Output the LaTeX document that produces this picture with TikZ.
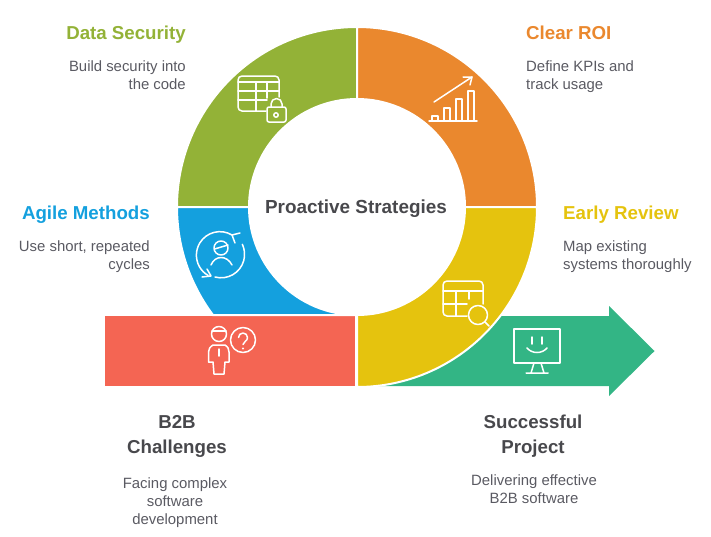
\documentclass[tikz,border=0pt]{standalone}
\usepackage{fontspec}
\setmainfont{Liberation Sans}
\definecolor{cOlive}{HTML}{93B237}
\definecolor{cOrange}{HTML}{EA882E}
\definecolor{cBlue}{HTML}{14A0DE}
\definecolor{cYellow}{HTML}{E5C30E}
\definecolor{cRed}{HTML}{F46553}
\definecolor{cGreen}{HTML}{33B585}
\definecolor{cTitle}{HTML}{48484C}
\definecolor{cDesc}{HTML}{5A5A62}
\tikzset{
  seg/.style={draw=white,line width=2pt,line join=miter},
  icon/.style={draw=white,line width=1.5pt,line cap=round,line join=round},
  head/.style={font=\fontsize{18.7}{25}\selectfont\bfseries,inner sep=0pt},
  desc/.style={font=\fontsize{14.9}{18}\selectfont,text=cDesc,inner sep=0pt},
}
\begin{document}
\begin{tikzpicture}[x=1pt,y=-1pt]
\useasboundingbox (0,0) rectangle (711,536);
% arrow (body runs under the ring)
\fill[cGreen] (370,386) -- (450,316) -- (609,316) -- (609,306) -- (654.5,351) -- (609,396) -- (609,386) -- cycle;
\fill[cRed] (105,316) rectangle (355,386);
% ring
\path[seg,fill=cOlive] (177,207) arc[start angle=180,end angle=270,radius=180] -- (357,99) arc[start angle=270,end angle=180,radius=108] -- cycle;
\path[seg,fill=cOrange] (357,27) arc[start angle=270,end angle=360,radius=180] -- (465,207) arc[start angle=360,end angle=270,radius=108] -- cycle;
\path[seg,fill=cYellow] (537,207) arc[start angle=0,end angle=90,radius=180] -- (357,315) arc[start angle=90,end angle=0,radius=108] -- cycle;
\path[seg,fill=cBlue] (177,207) arc[start angle=180,end angle=143.13,radius=180] -- (357,315) arc[start angle=90,end angle=180,radius=108] -- cycle;
% data security icon
\draw[icon] (279,97) -- (279,80) arc[start angle=0,end angle=-90,radius=4] -- (242,76) arc[start angle=270,end angle=180,radius=4] -- (238,107) arc[start angle=180,end angle=90,radius=4] -- (266,111);
\draw[icon] (238,82) -- (279,82) (238,91) -- (279,91) (238,100) -- (267,100) (256,82) -- (256,111) (267,82) -- (267,98);
\draw[icon,rounded corners=2pt] (267,107) rectangle (286,122);
\draw[icon] (271,107) -- (271,104) arc[start angle=180,end angle=360,radius=5.5] -- (282,107);
\draw[icon] (276,115) circle[radius=2.2];
% clear ROI icon
\draw[icon] (429,121) -- (477,121);
\draw[icon] (432,121) -- (432,116) -- (438,116) -- (438,121);
\draw[icon] (444,121) -- (444,108) -- (450,108) -- (450,121);
\draw[icon] (456,121) -- (456,99) -- (462,99) -- (462,121);
\draw[icon] (468,121) -- (468,91) -- (474,91) -- (474,121);
\draw[icon] (434,102) -- (472,77);
\draw[icon] (463,77) -- (472,77) -- (470,85);
% agile icon
\draw[icon] (232,235) arc[start angle=-59,end angle=-240,radius=23.5];
\draw[icon] (211,276) -- (202,277) (211,276) -- (207,269);
\draw[icon] (215,277) arc[start angle=105,end angle=-25,radius=23.5];
\draw[icon] (232,235) -- (240,233) (232,235) -- (235,243);
\draw[icon] (221,248) circle[radius=7];
\draw[icon] (214.5,249) -- (228,245);
\draw[icon] (211,265) .. controls (215,255) and (227,255) .. (232,265);
% challenge icon
\draw[icon] (219,334) circle[radius=7.5];
\draw[icon] (212,331) -- (226,331);
\draw[icon] (213,345) -- (225,345) .. controls (228,347) and (229,349) .. (229,352) -- (229,362) -- (225,362) -- (224,374) -- (214,374) -- (213,362) -- (208.5,362) -- (208.5,352) .. controls (208.5,349) and (210,347) .. (213,345);
\draw[icon] (219,349) -- (219,356);
\draw[icon] (243,340) circle[radius=12.5];
\draw[icon] (238.5,337.5) arc[start angle=180,end angle=420,radius=4.5] -- (243,344.5);
\fill[white] (243,348.5) circle[radius=1.2];
% review icon
\draw[icon] (467,316) -- (447,316) arc[start angle=90,end angle=180,radius=4] -- (443,285) arc[start angle=180,end angle=270,radius=4] -- (479,281) arc[start angle=270,end angle=360,radius=4] -- (483,304);
\draw[icon] (443,291) -- (483,291) (443,304) -- (467,304) (456,291) -- (456,316) (469,291) -- (469,299);
\draw[icon] (478,315) circle[radius=9.5];
\draw[icon] (485,322) -- (489,326);
% monitor icon
\draw[icon] (514,329) rectangle (560,363);
\draw[icon] (534,363) -- (531,373) (541,363) -- (544,373) (526,373) -- (548,373);
\draw[icon] (532,337) -- (532,344) (542,337) -- (542,344);
\draw[icon] (527,348) .. controls (532,354) and (542,354) .. (547,348);
% texts
\node[head,text=cTitle,anchor=base,font=\fontsize{18.9}{25}\selectfont\bfseries] (title) at (356,213.5) {Proactive Strategies};
\node[head,text=cOlive,anchor=base east] (t1) at (186,39.5) {Data Security};
\node[desc,anchor=north east,align=right] (d1) at (186,60.5) {Build security into\\the code};
\node[head,text=cOrange,anchor=base west] (t2) at (526,39.5) {Clear ROI};
\node[desc,anchor=north west,align=left] (d2) at (526,60.5) {Define KPIs and\\track usage};
\node[head,text=cBlue,anchor=base east] (t3) at (150,219.5) {Agile Methods};
\node[desc,anchor=north east,align=right] (d3) at (150,240.5) {Use short, repeated\\cycles};
\node[head,text=cYellow,anchor=base west] (t4) at (563,219.5) {Early Review};
\node[desc,anchor=north west,align=left] (d4) at (563,240.5) {Map existing\\systems thoroughly};
\node[head,text=cTitle,align=center,anchor=north] (t5) at (177,415) {B2B\\Challenges};
\node[desc,align=center,anchor=north] (d5) at (175,477) {Facing complex\\software\\development};
\node[head,text=cTitle,align=center,anchor=north] (t6) at (533,415) {Successful\\Project};
\node[desc,align=center,anchor=north] (d6) at (534,474) {Delivering effective\\B2B software};
\end{tikzpicture}
\end{document}
